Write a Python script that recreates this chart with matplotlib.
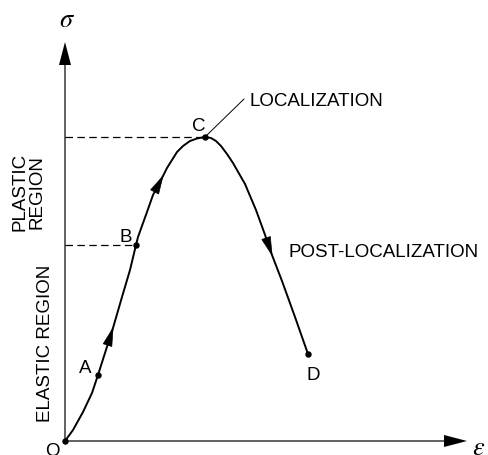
import numpy as np
import matplotlib
matplotlib.use("Agg")
import matplotlib.pyplot as plt

plt.rcParams['font.family'] = ['Liberation Sans', 'DejaVu Sans']
plt.rcParams['mathtext.fontset'] = 'stix'

# stress-strain curve (strain, stress in arbitrary units)
strain = [0.00, 0.08, 0.18, 0.27, 0.33, 0.40, 0.48, 0.57, 0.65, 0.71, 0.73, 0.82,
          0.88, 0.98, 1.02, 1.07, 1.12, 1.18, 1.25, 1.32, 1.40, 1.46, 1.51, 1.56,
          1.62, 1.68, 1.80, 1.91, 1.99, 2.07, 2.17, 2.30, 2.43]
stress = [0.00, 0.11, 0.29, 0.48, 0.66, 0.88, 1.13, 1.44, 1.71, 1.96, 2.04, 2.29,
          2.46, 2.65, 2.73, 2.81, 2.89, 2.95, 3.00, 3.025, 3.04, 3.03, 3.00, 2.95,
          2.87, 2.78, 2.57, 2.31, 2.09, 1.86, 1.60, 1.24, 0.87]

point_names = ['A', 'B', 'C', 'D']
point_idx = [4, 9, 20, 32]
arrow_idx = [6, 13, 29]

strain = np.array(strain)
stress = np.array(stress)

fig = plt.figure(figsize=(4.88, 4.55), dpi=100)
ax = fig.add_axes([0, 0, 1, 1])
ax.set_xlim(-0.65, 4.23)
ax.set_ylim(-0.14, 4.41)
ax.set_axis_off()

# axes with arrows
ax.arrow(0, 0, 0, 3.99, width=0.012, head_width=0.12, head_length=0.23,
         length_includes_head=True, fc='k', lw=0)
ax.arrow(0, 0, 4.02, 0, width=0.012, head_width=0.12, head_length=0.23,
         length_includes_head=True, fc='k', lw=0)
ax.text(0.02, 4.21, r'$\sigma$', fontsize=19, ha='center', va='center')
ax.text(4.14, -0.07, r'$\varepsilon$', fontsize=19, ha='center', va='center')

# curve
ax.plot(strain, stress, color='k', lw=1.4, solid_capstyle='round',
        solid_joinstyle='round')

# direction arrows on the curve
for i in arrow_idx:
    d = np.array([strain[i] - strain[i - 1], stress[i] - stress[i - 1]])
    d = d / np.hypot(*d)
    hl = 0.18
    ax.arrow(strain[i] - d[0] * hl, stress[i] - d[1] * hl, d[0] * hl, d[1] * hl,
             width=0, head_width=0.09, head_length=hl, length_includes_head=True,
             fc='k', ec='k', lw=0.5)

# points
ax.plot([strain[0]] + [strain[i] for i in point_idx],
        [stress[0]] + [stress[i] for i in point_idx],
        'o', color='k', ms=3.6, lw=0)

# dashed guides to B and C
for i in point_idx[1:3]:
    ax.plot([0, strain[i]], [stress[i], stress[i]], color='k', lw=0.9,
            ls=(0, (6, 3.5)))

# leader line for localization
ic = point_idx[2]
ax.plot([strain[ic], strain[ic] + 0.39], [stress[ic], stress[ic] + 0.38],
        color='k', lw=0.7)

fs = 13.5
ax.text(-0.13, -0.15, 'O', fontsize=fs, ha='center', va='baseline')
ax.text(0.20, 0.68, point_names[0], fontsize=fs, ha='center', va='baseline')
ax.text(0.61, 1.99, point_names[1], fontsize=fs, ha='center', va='baseline')
ax.text(1.34, 3.10, point_names[2], fontsize=fs, ha='center', va='baseline')
ax.text(2.48, 0.61, point_names[3], fontsize=fs, ha='center', va='baseline')
ax.text(1.85, 3.35, 'LOCALIZATION', fontsize=fs, ha='left', va='baseline')
ax.text(2.24, 1.84, 'POST-LOCALIZATION', fontsize=fs, ha='left', va='baseline')

ax.text(-0.40, 2.49, 'PLASTIC', fontsize=fs, rotation=90, rotation_mode='anchor',
        ha='center', va='baseline')
ax.text(-0.23, 2.49, 'REGION', fontsize=fs, rotation=90, rotation_mode='anchor',
        ha='center', va='baseline')
ax.text(-0.15, 0.98, 'ELASTIC REGION', fontsize=fs, rotation=90, rotation_mode='anchor',
        ha='center', va='baseline')

fig.savefig('out.png', dpi=100)
